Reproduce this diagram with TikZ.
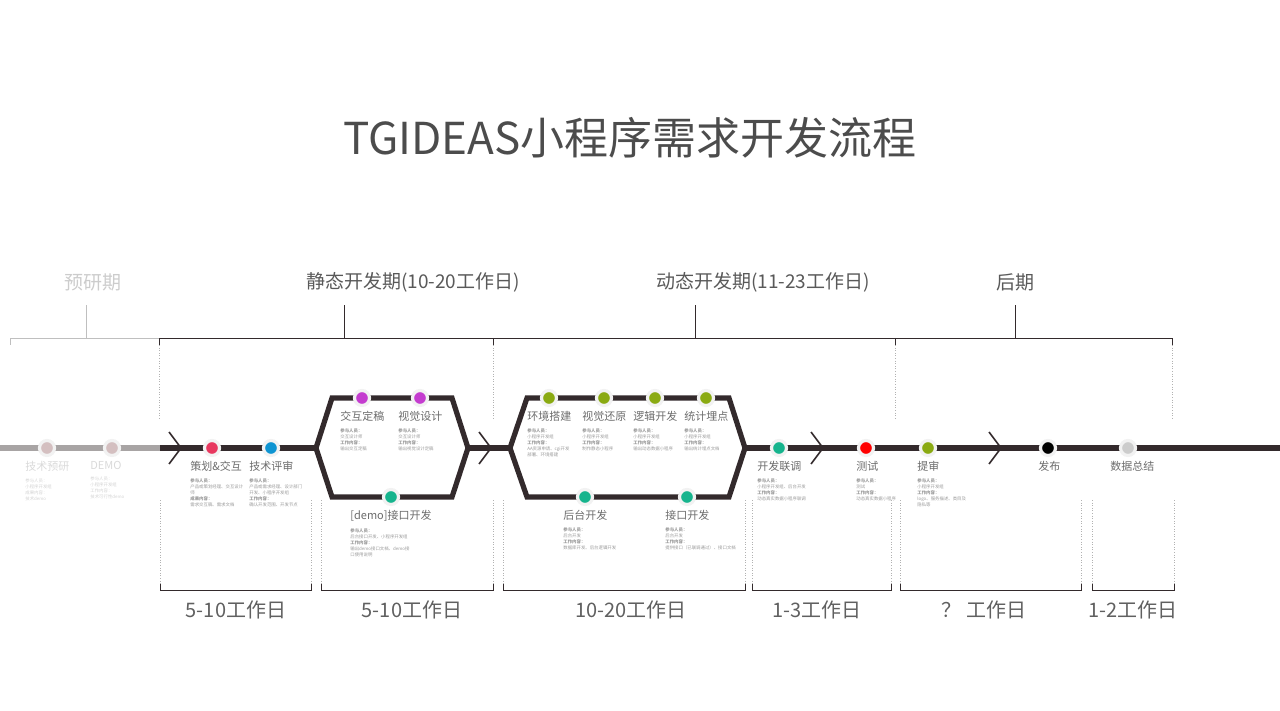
\documentclass[tikz,border=0pt]{standalone}
\usepackage{fontspec}
\setmainfont{Noto Sans CJK SC}
\usetikzlibrary{positioning}
\definecolor{ink}{HTML}{332A2C}
\definecolor{soft}{HTML}{A8A4A4}
\definecolor{rose}{HTML}{D4BFC0}
\definecolor{pink}{HTML}{E8385F}
\definecolor{sky}{HTML}{0E94D2}
\definecolor{violet}{HTML}{C43CCF}
\definecolor{teal}{HTML}{16B48D}
\definecolor{olive}{HTML}{8AAA12}
\tikzset{
  dot/.style={circle, fill=#1, draw=gray!10, line width=1.6, minimum size=7.5, inner sep=0pt},
  steplabel/.style={font=\fontsize{5.5}{6}\selectfont, text=gray!85!black, anchor=north west, inner sep=0pt},
  note/.style={font=\fontsize{2.2}{3}\selectfont, text=gray!80, anchor=north west, inner sep=0pt, align=left},
  phase/.style={font=\fontsize{9.5}{10}\selectfont, text=gray!70!black},
  span/.style={font=\fontsize{10}{11}\selectfont, text=gray!75!black},
  track/.style={ink, line width=2.6},
  chev/.style={ink, line width=0.8},
  guide/.style={gray!60, densely dotted, line width=0.3},
  brace/.style={ink, line width=0.4}
}
\newcommand{\chevron}[1]{\draw[chev] (#1-6,432) -- (#1+6,448) -- (#1-6,464);}
\begin{document}
\begin{tikzpicture}[x=0.5pt, y=-0.5pt]
\useasboundingbox (0,0) rectangle (1280,711);

% Title
\node[font=\fontsize{22}{24}\selectfont, text=gray!60!black] (title) at (630,138) {TGIDEAS小程序需求开发流程};

% Phases
\node[phase, text=gray!40] (p1) at (93,282) {预研期};
\node[phase] (p2) at (413,282) {静态开发期(10-20工作日)};
\node[phase] (p3) at (763,282) {动态开发期(11-23工作日)};
\node[phase] (p4) at (1015,282) {后期};
\draw[brace, gray!50] (10,345) -- (10,338) -- (159,338);
\draw[brace, gray!50] (86,338) -- (86,305);
\draw[brace] (159,345) -- (159,338) -- (1172,338) -- (1172,345);
\foreach \x in {493,895} {\draw[brace] (\x,338) -- (\x,345);}
\foreach \x in {344,695,1015} {\draw[brace] (\x,338) -- (\x,305);}
\foreach \x in {159,493,895,1172} {\draw[guide] (\x,345) -- (\x,420);}

% Main track
\draw[soft, line width=2.6] (0,448) -- (160,448);
\draw[track] (160,448) -- (316,448);
\draw[track, line join=miter] (316,448) -- (332,398) -- (452,398) -- (468,448) -- (452,497) -- (332,497) -- cycle;
\draw[track] (468,448) -- (510,448);
\draw[track, line join=miter] (510,448) -- (527,398) -- (729,398) -- (745,448) -- (729,497) -- (527,497) -- cycle;
\draw[track] (745,448) -- (1280,448);
\foreach \x in {175,485,817,995} {\chevron{\x}}

% Steps
\node[dot=rose] (s1) at (47,448) {};
\node[dot=rose] (s2) at (112,448) {};
\node[dot=pink] (s3) at (212,448) {};
\node[dot=sky] (s4) at (271,448) {};
\node[dot=violet] (s5) at (362,398) {};
\node[dot=violet] (s6) at (420,398) {};
\node[dot=teal] (s7) at (391,497) {};
\node[dot=olive] (s8) at (549,398) {};
\node[dot=olive] (s9) at (604,398) {};
\node[dot=olive] (s10) at (655,398) {};
\node[dot=olive] (s11) at (706,398) {};
\node[dot=teal] (s12) at (585,497) {};
\node[dot=teal] (s13) at (687,497) {};
\node[dot=teal] (s14) at (779,448) {};
\node[dot=red] (s15) at (866,448) {};
\node[dot=olive] (s16) at (928,448) {};
\node[dot=black] (s17) at (1048,448) {};
\node[dot=gray!40] (s18) at (1128,448) {};

% Step labels
\node[steplabel, text=gray!30] (l1) at (25,461) {技术预研};
\node[note, text=gray!35, below=3pt of l1.south west, anchor=north west] {参与人员：\\小程序开发组\\成果内容：\\技术demo};
\node[steplabel, text=gray!30] (l2) at (90,461) {DEMO};
\node[note, text=gray!35, below=3pt of l2.south west, anchor=north west] {参与人员：\\小程序开发组\\工作内容：\\技术可行性demo};
\node[steplabel] (l3) at (190,461) {策划\&交互};
\node[note, below=3pt of l3.south west, anchor=north west] {\textbf{参与人员：}\\产品或策划经理、交互设计\\师\\\textbf{成果内容：}\\需求交互稿、需求文档};
\node[steplabel] (l4) at (249,461) {技术评审};
\node[note, below=3pt of l4.south west, anchor=north west] {\textbf{参与人员：}\\产品或需求经理、设计部门\\开发、小程序开发组\\\textbf{工作内容：}\\确认开发范围、开发节点};
\node[steplabel] (l5) at (340,411) {交互定稿};
\node[note, below=3pt of l5.south west, anchor=north west] {\textbf{参与人员：}\\交互设计师\\\textbf{工作内容：}\\输出交互定稿};
\node[steplabel] (l6) at (398,411) {视觉设计};
\node[note, below=3pt of l6.south west, anchor=north west] {\textbf{参与人员：}\\交互设计师\\\textbf{工作内容：}\\输出视觉设计定稿};
\node[steplabel] (l7) at (350,510) {[demo]接口开发};
\node[note, below=3pt of l7.south west, anchor=north west] {\textbf{参与人员：}\\后台接口开发、小程序开发组\\\textbf{工作内容：}\\输出demo接口文档、demo接\\口使用说明};
\node[steplabel] (l8) at (527,411) {环境搭建};
\node[note, below=3pt of l8.south west, anchor=north west] {\textbf{参与人员：}\\小程序开发组\\\textbf{工作内容：}\\AA资源申请、cgi开发\\部署、环境搭建};
\node[steplabel] (l9) at (582,411) {视觉还原};
\node[note, below=3pt of l9.south west, anchor=north west] {\textbf{参与人员：}\\小程序开发组\\\textbf{工作内容：}\\制作静态小程序};
\node[steplabel] (l10) at (633,411) {逻辑开发};
\node[note, below=3pt of l10.south west, anchor=north west] {\textbf{参与人员：}\\小程序开发组\\\textbf{工作内容：}\\输出动态数据小程序};
\node[steplabel] (l11) at (684,411) {统计埋点};
\node[note, below=3pt of l11.south west, anchor=north west] {\textbf{参与人员：}\\小程序开发组\\\textbf{工作内容：}\\输出统计埋点文档};
\node[steplabel] (l12) at (563,510) {后台开发};
\node[note, below=3pt of l12.south west, anchor=north west] {\textbf{参与人员：}\\后台开发\\\textbf{工作内容：}\\数据库开发、后台逻辑开发};
\node[steplabel] (l13) at (665,510) {接口开发};
\node[note, below=3pt of l13.south west, anchor=north west] {\textbf{参与人员：}\\后台开发\\\textbf{工作内容：}\\提供接口（已联调通过）、接口文档};
\node[steplabel] (l14) at (757,461) {开发联调};
\node[note, below=3pt of l14.south west, anchor=north west] {\textbf{参与人员：}\\小程序开发组、后台开发\\\textbf{工作内容：}\\动态真实数据小程序联调};
\node[steplabel] (l15) at (856,461) {测试};
\node[note, below=3pt of l15.south west, anchor=north west] {\textbf{参与人员：}\\测试\\\textbf{工作内容：}\\动态真实数据小程序};
\node[steplabel] (l16) at (917,461) {提审};
\node[note, below=3pt of l16.south west, anchor=north west] {\textbf{参与人员：}\\小程序开发组\\\textbf{工作内容：}\\logo、服务描述、类目及\\隐私等};
\node[steplabel] (l17) at (1038,461) {发布};
\node[steplabel] (l18) at (1110,461) {数据总结};

% Spans
\foreach \a/\b in {160/311,321/493,503/745,752/891,900/1081,1092/1174} {
  \draw[guide] (\a,500) -- (\a,584);
  \draw[guide] (\b,500) -- (\b,584);
  \draw[brace] (\a,584) -- (\a,590) -- (\b,590) -- (\b,584);
}
\node[span] (d1) at (236,610) {5-10工作日};
\node[span] (d2) at (412,610) {5-10工作日};
\node[span] (d3) at (631,610) {10-20工作日};
\node[span] (d4) at (817,610) {1-3工作日};
\node[span] (d5) at (984,610) {？ 工作日};
\node[span] (d6) at (1133,610) {1-2工作日};
\end{tikzpicture}
\end{document}
